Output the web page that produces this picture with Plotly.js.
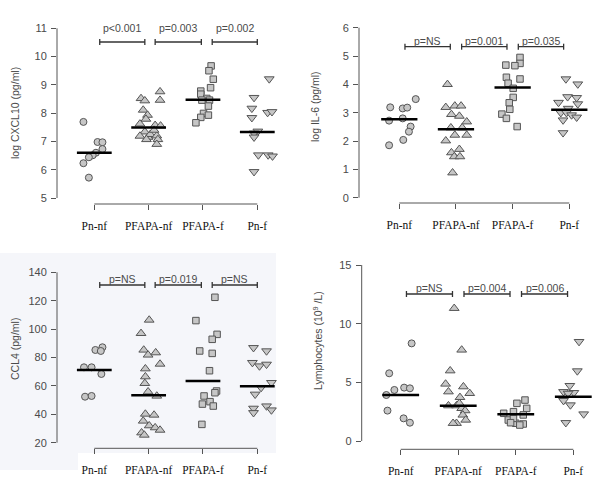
<!DOCTYPE html>
<html>
<head>
<meta charset="utf-8">
<script src="https://cdn.plot.ly/plotly-3.0.1.min.js"></script>
<style>html,body{margin:0;padding:0;background:#fff;}#chart{width:600px;height:479px;}</style>
</head>
<body>
<div id="chart"></div>
<script>
// ---------- DATA ----------
const categories = ["Pn-nf", "PFAPA-nf", "PFAPA-f", "Pn-f"];

// CXCL10 (log pg/ml)
const cxcl10Values = [
  [7.69, 6.98, 6.97, 6.73, 6.60, 6.51, 6.44, 6.23, 5.72],
  [8.52, 8.44, 8.76, 8.46, 8.11, 7.93, 7.79, 7.62, 7.57, 7.55, 7.34, 7.19, 7.15, 7.25, 7.20, 7.07, 6.90, 7.07, 7.40],
  [9.67, 9.50, 9.20, 8.90, 8.78, 8.67, 8.52, 8.46, 8.46, 8.25, 7.99, 7.93, 7.85, 7.66],
  [9.21, 8.55, 8.17, 7.84, 8.02, 8.05, 7.36, 7.29, 7.15, 6.52, 6.52, 6.48, 5.93]
];
const cxcl10Jitter = [
  [-0.20, 0.06, 0.15, 0.15, 0.03, -0.03, -0.10, -0.20, -0.10],
  [-0.14, -0.07, 0.21, 0.21, -0.10, -0.02, -0.05, -0.16, 0.12, 0.22, -0.07, -0.16, -0.01, 0.03, 0.15, 0.17, 0.15, -0.04, 0.10],
  [0.15, 0.11, 0.19, 0.14, -0.04, -0.04, 0.07, 0.12, -0.02, 0.10, 0.01, 0.10, -0.04, -0.13],
  [0.22, -0.06, -0.10, -0.10, 0.19, 0.27, 0.01, -0.06, -0.06, 0.02, 0.20, 0.28, -0.06]
];
const cxcl10Medians = [6.60, 7.49, 8.47, 7.33];
const cxcl10PValues = ["p<0.001", "p=0.003", "p=0.002"];

// IL-6 (log pg/ml)
const il6Values = [
  [3.19, 3.15, 3.18, 3.48, 2.72, 2.80, 2.51, 2.33, 2.04, 1.85],
  [4.00, 3.19, 3.24, 3.24, 2.94, 2.88, 2.68, 2.47, 2.47, 2.21, 2.21, 2.01, 1.71, 1.59, 1.45, 1.45, 0.88],
  [4.95, 4.74, 4.68, 4.66, 4.25, 4.19, 4.04, 3.86, 3.54, 3.35, 3.12, 2.95, 2.80, 2.51],
  [4.19, 4.01, 3.56, 3.53, 3.36, 3.31, 3.15, 3.00, 3.00, 2.92, 2.74, 2.84, 2.29]
];
const il6Jitter = [
  [-0.16, 0.06, 0.14, 0.29, -0.18, 0.06, 0.20, 0.17, 0.07, -0.18],
  [-0.15, -0.18, -0.02, 0.09, -0.08, 0.06, 0.19, -0.09, 0.11, -0.02, 0.19, -0.18, 0.06, -0.08, -0.03, 0.07, -0.06],
  [0.13, 0.13, -0.12, 0.04, -0.11, 0.13, -0.08, 0.01, 0.01, -0.06, -0.05, -0.19, -0.11, 0.08],
  [-0.06, 0.15, -0.03, 0.13, -0.19, 0.15, -0.02, -0.15, -0.05, 0.04, -0.11, 0.13, -0.11]
];
const il6Medians = [2.77, 2.42, 3.89, 3.10];
const il6PValues = ["p=NS", "p=0.001", "p=0.035"];

// CCL4 (pg/ml)
const ccl4Values = [
  [85.3, 87.2, 84.6, 73.1, 73.1, 68.4, 52.4, 52.9],
  [106.4, 97.0, 85.3, 81.8, 83.4, 75.4, 72.1, 66.5, 61.8, 55.9, 52.9, 40.2, 39.5, 35.3, 32.0, 30.6, 28.9, 27.0, 25.4],
  [122.4, 106.0, 96.3, 92.8, 84.6, 82.9, 70.7, 56.4, 55.2, 52.9, 48.9, 47.2, 45.8, 32.9],
  [86.9, 84.6, 76.4, 74.0, 75.2, 62.3, 58.8, 54.1, 44.2, 41.1, 45.8, 43.0]
];
const ccl4Jitter = [
  [0.02, 0.15, 0.12, -0.19, -0.05, 0.13, -0.17, -0.05],
  [0.01, -0.14, -0.09, -0.01, 0.13, 0.21, -0.06, -0.06, -0.07, -0.01, 0.15, -0.06, 0.10, -0.10, 0.01, 0.12, 0.21, -0.13, -0.08],
  [0.22, -0.13, 0.26, 0.17, -0.06, 0.17, 0.12, 0.25, 0.22, 0.02, 0.13, -0.01, 0.19, -0.02],
  [-0.07, 0.17, -0.09, 0.04, 0.17, 0.26, 0.07, -0.04, -0.07, -0.07, 0.17, 0.26]
];
const ccl4Medians = [71.2, 53.4, 63.4, 59.8];
const ccl4PValues = ["p=NS", "p=0.019", "p=NS"];

// Lymphocytes (10^9/L)
const lymphValues = [
  [8.32, 5.77, 4.35, 4.55, 4.49, 3.92, 2.59, 1.93, 1.56],
  [11.31, 7.76, 5.99, 4.86, 4.20, 4.63, 4.06, 3.72, 3.01, 3.01, 2.78, 2.59, 2.22, 1.79, 1.51, 1.51, 3.21],
  [3.49, 3.21, 2.78, 2.36, 2.50, 2.22, 1.79, 1.51, 1.45, 1.36, 1.93, 1.56],
  [8.47, 5.97, 4.72, 4.20, 4.12, 4.06, 3.44, 3.07, 2.30, 1.56]
];
const lymphJitter = [
  [0.19, -0.20, -0.11, 0.06, 0.16, -0.25, -0.23, 0.05, 0.16],
  [-0.07, 0.06, -0.14, -0.22, -0.17, 0.09, 0.20, 0.03, -0.17, -0.03, 0.06, 0.12, 0.08, 0.13, -0.03, -0.09, 0.02],
  [0.16, 0.02, 0.19, -0.21, -0.04, 0.13, -0.13, 0.00, 0.13, 0.07, -0.04, -0.09],
  [0.10, 0.07, -0.06, -0.17, 0.01, -0.09, -0.17, -0.05, 0.18, -0.13]
];
const lymphMedians = [3.92, 3.01, 2.27, 3.78];
const lymphPValues = ["p=NS", "p=0.004", "p=0.006"];

const yTicksCXCL10 = [5, 6, 7, 8, 9, 10, 11];
const yTicksIL6 = [0, 1, 2, 3, 4, 5, 6];
const yTicksCCL4 = [20, 40, 60, 80, 100, 120, 140];
const yTicksLymph = [0, 5, 10, 15];

// ---------- LAYOUT / STYLE ----------
const W = 600, H = 479;
const symbols = ["circle", "triangle-up", "square", "triangle-down"];
const symSizes = [7, 8.5, 6.5, 8.5];
const fillCol = "#c6c6c6", edgeCol = "#555555", axisCol = "#555555", textCol = "#4a4a4a";

const panels = [
  { values: cxcl10Values, jitter: cxcl10Jitter, medians: cxcl10Medians, pvals: cxcl10PValues, ticks: yTicksCXCL10,
    title: "log CXCL10 (pg/ml)", titleX: 15, titleY: 113,
    g: { left: 57, right: 295, top: 15, bottom: 204, c1: 94.3, c4: 257.3, yLoPx: 198, yHiPx: 28.3 },
    brackets: [[1.10, 1.93], [2.12, 2.97], [3.17, 4.00]], bracketPx: 42, labelPx: 28.5 },
  { values: il6Values, jitter: il6Jitter, medians: il6Medians, pvals: il6PValues, ticks: yTicksIL6,
    title: "log IL-6 (pg/ml)", titleX: 315, titleY: 107,
    g: { left: 359, right: 598, top: 15, bottom: 203, c1: 399.3, c4: 569.3, yLoPx: 197.7, yHiPx: 27.7 },
    brackets: [[1.10, 1.90], [2.10, 2.90], [3.10, 3.90]], bracketPx: 46.7, labelPx: 41 },
  { values: ccl4Values, jitter: ccl4Jitter, medians: ccl4Medians, pvals: ccl4PValues, ticks: yTicksCCL4,
    title: "CCL4 (pg/ml)", titleX: 15, titleY: 349,
    g: { left: 57, right: 295, top: 258, bottom: 448.3, c1: 94.3, c4: 257.3, yLoPx: 442.7, yHiPx: 272.3 },
    brackets: [[1.10, 1.93], [2.12, 2.97], [3.17, 4.00]], bracketPx: 285, labelPx: 278.5 },
  { values: lymphValues, jitter: lymphJitter, medians: lymphMedians, pvals: lymphPValues, ticks: yTicksLymph,
    title: "Lymphocytes (10<sup>9</sup> /L)", titleX: 317, titleY: 341,
    g: { left: 361.7, right: 598, top: 258, bottom: 449.3, c1: 400.7, c4: 573.3, yLoPx: 441, yHiPx: 265 },
    brackets: [[1.10, 1.90], [2.10, 2.90], [3.10, 3.90]], bracketPx: 294, labelPx: 288 }
];

const traces = [];
const layout = {
  width: W, height: H, autosize: false,
  margin: { l: 0, r: 0, t: 0, b: 0, pad: 0 },
  paper_bgcolor: "#ffffff", plot_bgcolor: "rgba(0,0,0,0)",
  showlegend: false,
  shapes: [
    // faint tinted background of the lower-left figure panel
    { type: "rect", xref: "paper", yref: "paper", x0: 0, x1: 276 / W, y0: 1 - 470 / H, y1: 1 - 253 / H,
      fillcolor: "#f5f6fa", line: { width: 0 }, layer: "below" },
    { type: "rect", xref: "paper", yref: "paper", x0: 78 / W, x1: 276 / W, y0: 1 - 470 / H, y1: 1 - 453 / H,
      fillcolor: "#ffffff", line: { width: 0 }, layer: "below" }
  ],
  annotations: []
};

panels.forEach((p, pi) => {
  const sfx = pi === 0 ? "" : String(pi + 1);
  const xa = "x" + sfx, ya = "y" + sfx;
  const g = p.g;
  const yLo = p.ticks[0], yHi = p.ticks[p.ticks.length - 1];
  const ppu = (g.c4 - g.c1) / 3;
  const yppu = (g.yLoPx - g.yHiPx) / (yHi - yLo);
  const pxToY = px => yLo + (g.yLoPx - px) / yppu;

  layout["xaxis" + sfx] = {
    domain: [g.left / W, g.right / W],
    range: [1 - (g.c1 - g.left) / ppu, 1 + (g.right - g.c1) / ppu],
    anchor: ya, showgrid: false, zeroline: false, showline: false,
    tickmode: "array", tickvals: [1, 2, 3, 4], ticktext: categories,
    ticks: "outside", ticklen: 5, tickwidth: 1, tickcolor: axisCol,
    ticklabelstandoff: 6,
    tickfont: { family: "Liberation Serif, Times New Roman, serif", size: 11.5, color: "#111" },
    fixedrange: true
  };
  layout["yaxis" + sfx] = {
    domain: [1 - g.bottom / H, 1 - g.top / H],
    range: [pxToY(g.bottom), pxToY(g.top)],
    anchor: xa, showgrid: false, zeroline: false, showline: false,
    tickmode: "array", tickvals: p.ticks,
    ticks: "outside", ticklen: 5, tickwidth: 1, tickcolor: axisCol,
    ticklabelstandoff: 2,
    tickfont: { family: "Liberation Sans, Arial, sans-serif", size: 11, color: textCol },
    fixedrange: true
  };

  // R-style detached axis lines
  layout.shapes.push({ type: "line", xref: xa, yref: ya + " domain", x0: 1, x1: 4, y0: 0, y1: 0,
    line: { color: axisCol, width: 1 } });
  layout.shapes.push({ type: "line", xref: xa + " domain", yref: ya, x0: 0, x1: 0, y0: yLo, y1: yHi,
    line: { color: axisCol, width: 1 } });

  // points
  p.values.forEach((vals, gi) => {
    traces.push({
      type: "scatter", mode: "markers", xaxis: xa, yaxis: ya,
      x: vals.map((v, i) => gi + 1 + p.jitter[gi][i]), y: vals,
      marker: { symbol: symbols[gi], size: symSizes[gi], color: fillCol, line: { color: edgeCol, width: 1 } },
      hoverinfo: "skip", cliponaxis: false
    });
  });
  // medians
  p.medians.forEach((m, gi) => {
    traces.push({
      type: "scatter", mode: "lines", xaxis: xa, yaxis: ya,
      x: [gi + 1 - 0.32, gi + 1 + 0.32], y: [m, m],
      line: { color: "#000", width: 2.5 }, hoverinfo: "skip"
    });
  });
  // brackets + p-values
  const by = pxToY(p.bracketPx), hy = 3 / yppu;
  p.brackets.forEach((b, bi) => {
    const ln = { color: "#333", width: 1.3 };
    layout.shapes.push({ type: "line", xref: xa, yref: ya, x0: b[0], x1: b[1], y0: by, y1: by, line: ln });
    layout.shapes.push({ type: "line", xref: xa, yref: ya, x0: b[0], x1: b[0], y0: by - hy, y1: by + hy, line: ln });
    layout.shapes.push({ type: "line", xref: xa, yref: ya, x0: b[1], x1: b[1], y0: by - hy, y1: by + hy, line: ln });
    layout.annotations.push({
      xref: xa, yref: ya, x: (b[0] + b[1]) / 2, y: pxToY(p.labelPx), text: p.pvals[bi],
      showarrow: false, xanchor: "center", yanchor: "middle", borderpad: 0,
      font: { family: "Liberation Sans, Arial, sans-serif", size: 10.5, color: textCol }
    });
  });
  // y-axis title
  layout.annotations.push({
    xref: "paper", yref: "paper", x: p.titleX / W, y: 1 - p.titleY / H, text: p.title,
    textangle: -90, showarrow: false, xanchor: "center", yanchor: "middle",
    font: { family: "Liberation Sans, Arial, sans-serif", size: 10.5, color: textCol }
  });
});

Plotly.newPlot("chart", traces, layout, { staticPlot: true, displayModeBar: false });
</script>
</body>
</html>
